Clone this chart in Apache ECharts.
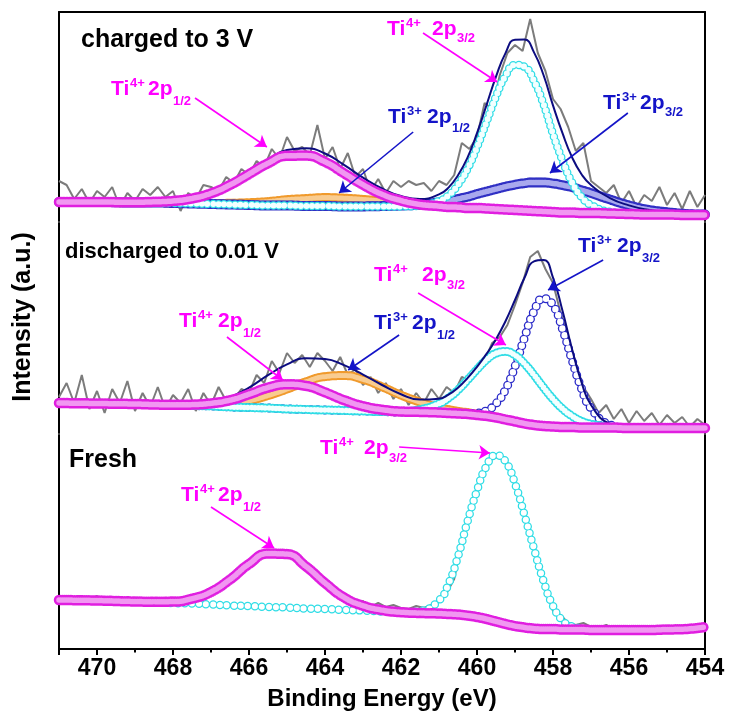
<!DOCTYPE html>
<html><head><meta charset="utf-8">
<script src="https://cdn.jsdelivr.net/npm/echarts@6/dist/echarts.min.js"></script>
<style>html,body{margin:0;padding:0;background:#fff}#c{width:729px;height:718px}</style>
</head><body><div id="c"></div>
<script>
// ---------- DATA ----------
// binding-energy grid of the fitted components (eV)
const fitX = [471, 470, 469, 468.5, 468, 467.5, 467, 466.5, 466, 465.5, 465, 464.5, 464, 463.5, 463, 462.5, 462, 461.5, 461, 460.75, 460.5, 460.25, 460, 459.75, 459.5, 459.25, 459, 458.75, 458.5, 458.25, 458, 457.75, 457.5, 457.25, 457, 456.5, 456, 455.5, 455, 454.5, 454];
// binding-energy grid of the raw spectra (eV)
const rawX = [471, 470.8, 470.6, 470.4, 470.2, 470, 469.8, 469.6, 469.4, 469.2, 469, 468.8, 468.6, 468.4, 468.2, 468, 467.8, 467.6, 467.4, 467.2, 467, 466.8, 466.6, 466.4, 466.2, 466, 465.8, 465.6, 465.4, 465.2, 465, 464.8, 464.6, 464.4, 464.2, 464, 463.8, 463.6, 463.4, 463.2, 463, 462.8, 462.6, 462.4, 462.2, 462, 461.8, 461.6, 461.4, 461.2, 461, 460.8, 460.6, 460.4, 460.2, 460, 459.8, 459.6, 459.4, 459.2, 459, 458.8, 458.6, 458.4, 458.2, 458, 457.8, 457.6, 457.4, 457.2, 457, 456.8, 456.6, 456.4, 456.2, 456, 455.8, 455.6, 455.4, 455.2, 455, 454.8, 454.6, 454.4, 454.2, 454];
const xTicks = [470, 468, 466, 464, 462, 460, 458, 456, 454];

// panel 1: charged to 3 V
const raw1 = [40,36,22,32,18,30,24,34,14,28, 20,32,26,34,24,30,10,28,22,36, 34,30,44,38,52,46,60,54,72,62, 84,70,74,66,96,62,74,52,68,44, 52,30,42,28,40,34,40,36,38,30, 40,36,46,78,72,84,118,112,146,168, 176,170,202,168,150,122,112,94,70,78, 40,34,28,36,18,30,14,26,20,34, 16,28,12,30,14,26];
const ti4_12_p1 = [19, 19, 18.7, 19.2, 20, 22.5, 27.7, 36.1, 46.9, 57.7, 65.2, 65.4, 59.1, 47.8, 36.2, 26.7, 20.4, 16.5, 14.9, 14, 13.8, 13, 13, 12.5, 12, 11.5, 11, 10.5, 10, 9.5, 9, 8.5, 8.5, 8, 8, 7.5, 7, 6.5, 6.5, 6, 6];
const ti3_12_p1 = [19, 19, 18.5, 18.5, 18.1, 17.7, 17.5, 17.7, 18.3, 19.4, 21.3, 22.4, 23.4, 22.8, 21.6, 19.9, 18, 16, 15, 14.2, 14, 13.3, 13.2, 12.5, 12, 11.5, 11, 10.5, 10, 9.5, 9, 8.5, 8.5, 8, 8, 7.5, 7, 6.5, 6.5, 6, 6];
const ti4_32_p1 = [19, 19, 18.5, 18.5, 18, 17.5, 17, 16.5, 16, 15.5, 15.5, 15, 15, 14.5, 14.5, 14.5, 14.6, 15.1, 20, 25.7, 36.3, 52, 73.7, 99, 124.5, 145.1, 156, 154.1, 140, 117, 87, 60.5, 38.5, 24, 16, 9, 7.3, 6.5, 6.5, 6, 6];
const ti3_32_p1 = [19, 19, 18.5, 18.5, 18, 17.5, 17, 16.5, 16, 15.5, 15.5, 15, 15, 14.5, 14.6, 14.9, 15.5, 16.3, 18.7, 20, 22.1, 24.1, 26.9, 29.4, 31.9, 34.3, 36.3, 37.8, 38.6, 38.5, 37.6, 35.8, 33.8, 30.8, 27.9, 21.4, 15.6, 11.2, 8.8, 7, 6.4];
const env_p1 = [19, 19, 18.7, 19.2, 20.1, 22.7, 28.2, 37.3, 49.2, 61.6, 71, 72.8, 67.5, 56.1, 43.4, 32.5, 25, 21.9, 26.6, 33.4, 45.7, 63.4, 87.8, 115.9, 144.4, 167.9, 181.3, 181.4, 168.6, 146, 115.6, 87.8, 63.8, 46.8, 35.9, 22.9, 15.6, 11.2, 8.8, 7, 6.4];

// panel 2: discharged to 0.01 V
const raw2 = [36,50,30,58,24,42,20,44,30,52, 22,40,26,46,24,38,30,44,22,40, 28,46,32,34,44,40,58,50,72,60, 80,70,78,66,80,72,62,76,58,64, 48,56,40,50,34,44,28,40,30,44, 34,46,40,56,52,68,72,90,96,108, 128,150,176,182,164,150,120,96,70,46, 34,20,28,14,24,10,22,12,20,8, 18,10,16,6,14,8];
const ti4_12_p2 = [30, 29.5, 29, 28.5, 28.2, 28.4, 29.7, 32.8, 38.7, 45.4, 48.7, 47.1, 40.7, 32.9, 26.8, 23.3, 21.5, 21.1, 20.5, 20, 19.5, 19, 18, 17, 15.5, 13.5, 11.5, 9.5, 8, 7, 6.5, 6, 6, 5.5, 5.5, 5.5, 5, 5, 5, 5, 5];
const ti3_12_p2 = [30, 29.5, 29, 28.5, 28.1, 27.9, 28.3, 29.1, 32.2, 37.4, 43.9, 51.2, 56.4, 57.4, 53.6, 46.2, 37.8, 30.9, 25.5, 23.4, 21.7, 20.4, 18.9, 17.5, 15.8, 13.7, 11.6, 9.5, 8, 7, 6.5, 6, 6, 5.5, 5.5, 5.5, 5, 5, 5, 5, 5];
const ti4_32_p2 = [30, 29.5, 29, 28.5, 28, 27.5, 27, 26, 25.5, 25, 24, 23.5, 23, 22.5, 22, 21.5, 21.5, 23.4, 29.3, 35, 43, 53, 63.5, 73.2, 79.7, 81.5, 77.8, 69.3, 58, 45.5, 34, 24.2, 17, 11.7, 8.8, 6.2, 5.1, 5, 5, 5, 5];
const ti3_32_p2 = [30, 29.5, 29, 28.5, 28, 27.5, 27, 26, 25.5, 25, 24, 23.5, 23, 22.5, 22, 21.5, 21, 21, 20.5, 20, 19.6, 19.5, 19.8, 22.4, 29.3, 43.5, 66.6, 95.4, 121.7, 134.6, 127.9, 104, 73.1, 44.5, 24.7, 8.3, 5.2, 5, 5, 5, 5];
const env_p2 = [30, 29.5, 29, 28.5, 28.3, 28.8, 31, 35.9, 45.4, 57.8, 68.6, 74.8, 74.1, 67.8, 58.4, 48, 38.8, 33.4, 34.3, 38.4, 45.3, 54.9, 66.2, 79.1, 93.8, 111.7, 133, 155.2, 171.7, 173.1, 155.4, 122.2, 84.1, 50.7, 28, 9, 5.3, 5, 5, 5, 5];

// panel 3: fresh
const raw3 = [50,49,50,48,49,53,48,49,47,48, 47,48,47,46,47,49,48,50,52,55, 58,63,67,73,79,85,90,94,96,96, 94,90,85,79,72,66,58,52,50,45, 48,42,46,42,44,41,40,43,41,44, 48,56,70,108,135,158,180,190,193,185, 166,140,112,86,62,38,34,26,24,26, 22,21,24,20,19,20,19,18,19,19, 20,19,21,20,21,22];
const ti4_12_p3 = [49, 48.5, 47.5, 47.3, 47.4, 50.3, 57.1, 69.5, 85, 95.4, 94.9, 82.5, 66, 51.6, 43.3, 38.9, 36.8, 36, 35.5, 35, 34.5, 33.5, 32, 30, 27.5, 25, 23, 21.5, 20.5, 20, 20, 19.5, 19.5, 19.5, 19, 19, 19, 19, 19.5, 20, 22];
const ti4_32_p3 = [49, 48.5, 47.5, 47, 46, 45.5, 44.5, 43.5, 43, 42, 41.5, 40.5, 40, 39, 38.5, 37.5, 36.7, 38, 48.5, 65, 92.5, 127.4, 158.4, 183, 193.8, 187.5, 165.5, 133.9, 100.2, 68, 43, 28.5, 22.5, 20.5, 19.3, 19, 19, 19, 19.5, 20, 22];

// annotation arrows [fromBE, fromI, toBE, toI, ion]
const arrows1 = [[461.42,188,459.47,139,4],[467.42,123,465.53,74,4],[461.68,89,463.63,28,3],[456.03,108,458.08,48,3]];
const arrows2 = [[456.68,173,458.13,143,3],[461.55,140,459.24,88,4],[466.58,96,465.11,53,4],[462.05,98,463.39,63,3]];
const arrows3 = [[462.05,202,459.66,196,4],[467.0,142,465.34,101,4]];

// ---------- LAYOUT / STYLE ----------
const FONT = '"Liberation Sans", Arial, sans-serif';
const MAG = '#ff00ff', BLUE_T = '#1414c8';
const panels = [{top: 12, h: 209}, {top: 223, h: 210}, {top: 435, h: 214}];
const LEFT = 59, RIGHT = 24;

function pairs(xs, ys) { return xs.map((x, i) => [x, ys[i]]); }
function base(p, data) {
  return {type: 'line', xAxisIndex: p, yAxisIndex: p * 2, data: data, symbol: 'none',
    silent: true, animation: false, clip: true};
}
function ring(p, ys, color, inner, w, wi, gap) {
  const d = pairs(fitX, ys);
  const s1 = Object.assign(base(p, d), {smooth: 0.5,
    lineStyle: {color: color, width: w, type: [0, gap], cap: 'round', join: 'round'}});
  const s2 = Object.assign(base(p, d), {smooth: 0.5,
    lineStyle: {color: inner, width: wi, type: [0, gap], cap: 'round', join: 'round'}});
  return [s1, s2];
}
function rawLine(p, ys) {
  return Object.assign(base(p, pairs(rawX, ys)), {lineStyle: {color: '#7c7c7c', width: 2}});
}
function envLine(p, ys) {
  return Object.assign(base(p, pairs(fitX, ys)), {smooth: 0.5,
    lineStyle: {color: '#0c0c80', width: 2}});
}
function withArrows(s, arr) {
  s.markLine = {silent: true, animation: false, symbol: ['none', 'arrow'], symbolSize: 11,
    label: {show: false}, emphasis: {disabled: true},
    data: arr.map(a => [{coord: [a[0], a[1]], lineStyle: {color: a[4] === 4 ? MAG : BLUE_T, width: 1.6, type: 'solid'}},
                        {coord: [a[2], a[3]]}])};
  return s;
}

const C_MAG = ['#e01ee0', '#f197f1'], C_OR = ['#f09a2c', '#f9cc90'], C_CY = ['#2fdde6', '#f2ffff'], C_BL = ['#3030c4', '#a9a9ee'];

let series = [];
// panel 1
series.push(rawLine(0, raw1));
series.push(...ring(0, ti3_12_p1, C_OR[0], C_OR[1], 9, 5, 1.5));
series.push(...ring(0, ti3_32_p1, C_BL[0], C_BL[1], 10, 5.5, 1.5));
series.push(...ring(0, ti4_32_p1, C_CY[0], C_CY[1], 8.5, 6, 5.5));
series.push(envLine(0, env_p1));
let m1 = ring(0, ti4_12_p1, C_MAG[0], C_MAG[1], 10.5, 5.5, 1.5);
withArrows(m1[1], arrows1);
series.push(...m1);
// panel 2
series.push(rawLine(1, raw2));
series.push(...ring(1, ti3_12_p2, C_OR[0], C_OR[1], 9, 5, 1.5));
series.push(...ring(1, ti3_32_p2, '#2a2ac8', '#ffffff', 9, 6.4, 7));
series.push(...ring(1, ti4_32_p2, C_CY[0], C_CY[1], 9, 5.5, 3.5));
series.push(envLine(1, env_p2));
let m2 = ring(1, ti4_12_p2, C_MAG[0], C_MAG[1], 10.5, 5.5, 1.5);
withArrows(m2[1], arrows2);
series.push(...m2);
// panel 3
series.push(rawLine(2, raw3));
series.push(...ring(2, ti4_32_p3, C_CY[0], '#ffffff', 8.5, 6, 7));
let m3 = ring(2, ti4_12_p3, C_MAG[0], C_MAG[1], 10.5, 5.5, 2);
withArrows(m3[1], arrows3);
series.push(...m3);

const edge = {show: true, onZero: false, lineStyle: {color: '#000', width: 2}};
const grids = panels.map(p => ({left: LEFT, right: RIGHT, top: p.top, height: p.h, containLabel: false}));
const xAxes = [
  {gridIndex: 0, type: 'value', min: 454, max: 471, inverse: true, position: 'top', axisLine: edge,
   axisTick: {show: false}, axisLabel: {show: false}, splitLine: {show: false}},
  {gridIndex: 1, type: 'value', min: 454, max: 471, inverse: true, show: false},
  {gridIndex: 2, type: 'value', min: 454, max: 471, interval: 2, inverse: true, position: 'bottom', axisLine: edge,
   axisTick: {show: true, inside: false, length: 6, lineStyle: {color: '#000', width: 2}},
   minorTick: {show: true, splitNumber: 2, length: 3.5, lineStyle: {color: '#000', width: 2}},
   splitLine: {show: false}, minorSplitLine: {show: false},
   axisLabel: {show: true, margin: 8, color: '#000', fontFamily: FONT, fontWeight: 'bold', fontSize: 23,
     formatter: v => (xTicks.indexOf(v) >= 0 ? String(v) : '')},
   name: 'Binding Energy (eV)', nameLocation: 'middle', nameGap: 38,
   nameTextStyle: {color: '#000', fontFamily: FONT, fontWeight: 'bold', fontSize: 24}}
];
const yAxes = [];
panels.forEach((p, i) => {
  ['left', 'right'].forEach(pos => yAxes.push({gridIndex: i, type: 'value', min: 0, max: p.h, position: pos,
    axisLine: edge, axisTick: {show: false}, axisLabel: {show: false}, splitLine: {show: false}}));
});

// annotation labels (pixel layout)
const labels = [
  {L: 387, C: 29, gap: 45, ion: '4+', sub: '3/2', dy: 9},
  {L: 111, C: 89, gap: 37, ion: '4+', sub: '1/2', dy: 12},
  {L: 388, C: 117, gap: 39, ion: '3+', sub: '1/2', dy: 11},
  {L: 603, C: 103, gap: 37, ion: '3+', sub: '3/2', dy: 9},
  {L: 578, C: 246, gap: 39, ion: '3+', sub: '3/2', dy: 12},
  {L: 374, C: 275, gap: 48, ion: '4+', sub: '3/2', dy: 10},
  {L: 179, C: 321, gap: 39, ion: '4+', sub: '1/2', dy: 12},
  {L: 374, C: 323, gap: 38, ion: '3+', sub: '1/2', dy: 12},
  {L: 320, C: 448, gap: 44, ion: '4+', sub: '3/2', dy: 10},
  {L: 181, C: 495, gap: 37, ion: '4+', sub: '1/2', dy: 12}
];
function txt(x, y, s, col, font, extra) {
  return Object.assign({type: 'text', x: x, y: y, silent: true, z: 100,
    style: {text: s, fill: col, font: font, textAlign: 'left', textVerticalAlign: 'middle', align: 'left', verticalAlign: 'middle'}}, extra || {});
}
const f = n => 'bold ' + n + 'px ' + FONT;
const graphic = [];
labels.forEach(lb => {
  const col = lb.ion === '4+' ? MAG : BLUE_T;
  graphic.push(txt(lb.L, lb.C, 'Ti', col, f(21)));
  graphic.push(txt(lb.L + 19, lb.C - 6, lb.ion, col, f(13)));
  graphic.push(txt(lb.L + lb.gap, lb.C, '2p', col, f(21)));
  graphic.push(txt(lb.L + lb.gap + 25, lb.C + lb.dy, lb.sub, col, f(13)));
});
graphic.push(txt(81, 40, 'charged to 3 V', '#000', f(25)));
graphic.push(txt(65, 252, 'discharged to 0.01 V', '#000', f(22)));
graphic.push(txt(69, 460, 'Fresh', '#000', f(25)));
graphic.push({type: 'text', x: 23, y: 317, rotation: Math.PI / 2, silent: true, z: 100,
  style: {text: 'Intensity (a.u.)', fill: '#000', font: f(25), textAlign: 'center', textVerticalAlign: 'middle', align: 'center', verticalAlign: 'middle'}});

const chart = echarts.init(document.getElementById('c'), null, {renderer: 'canvas'});
chart.setOption({
  backgroundColor: '#fff',
  animation: false,
  grid: grids,
  xAxis: xAxes,
  yAxis: yAxes,
  series: series,
  graphic: graphic
});
</script>
</body></html>
